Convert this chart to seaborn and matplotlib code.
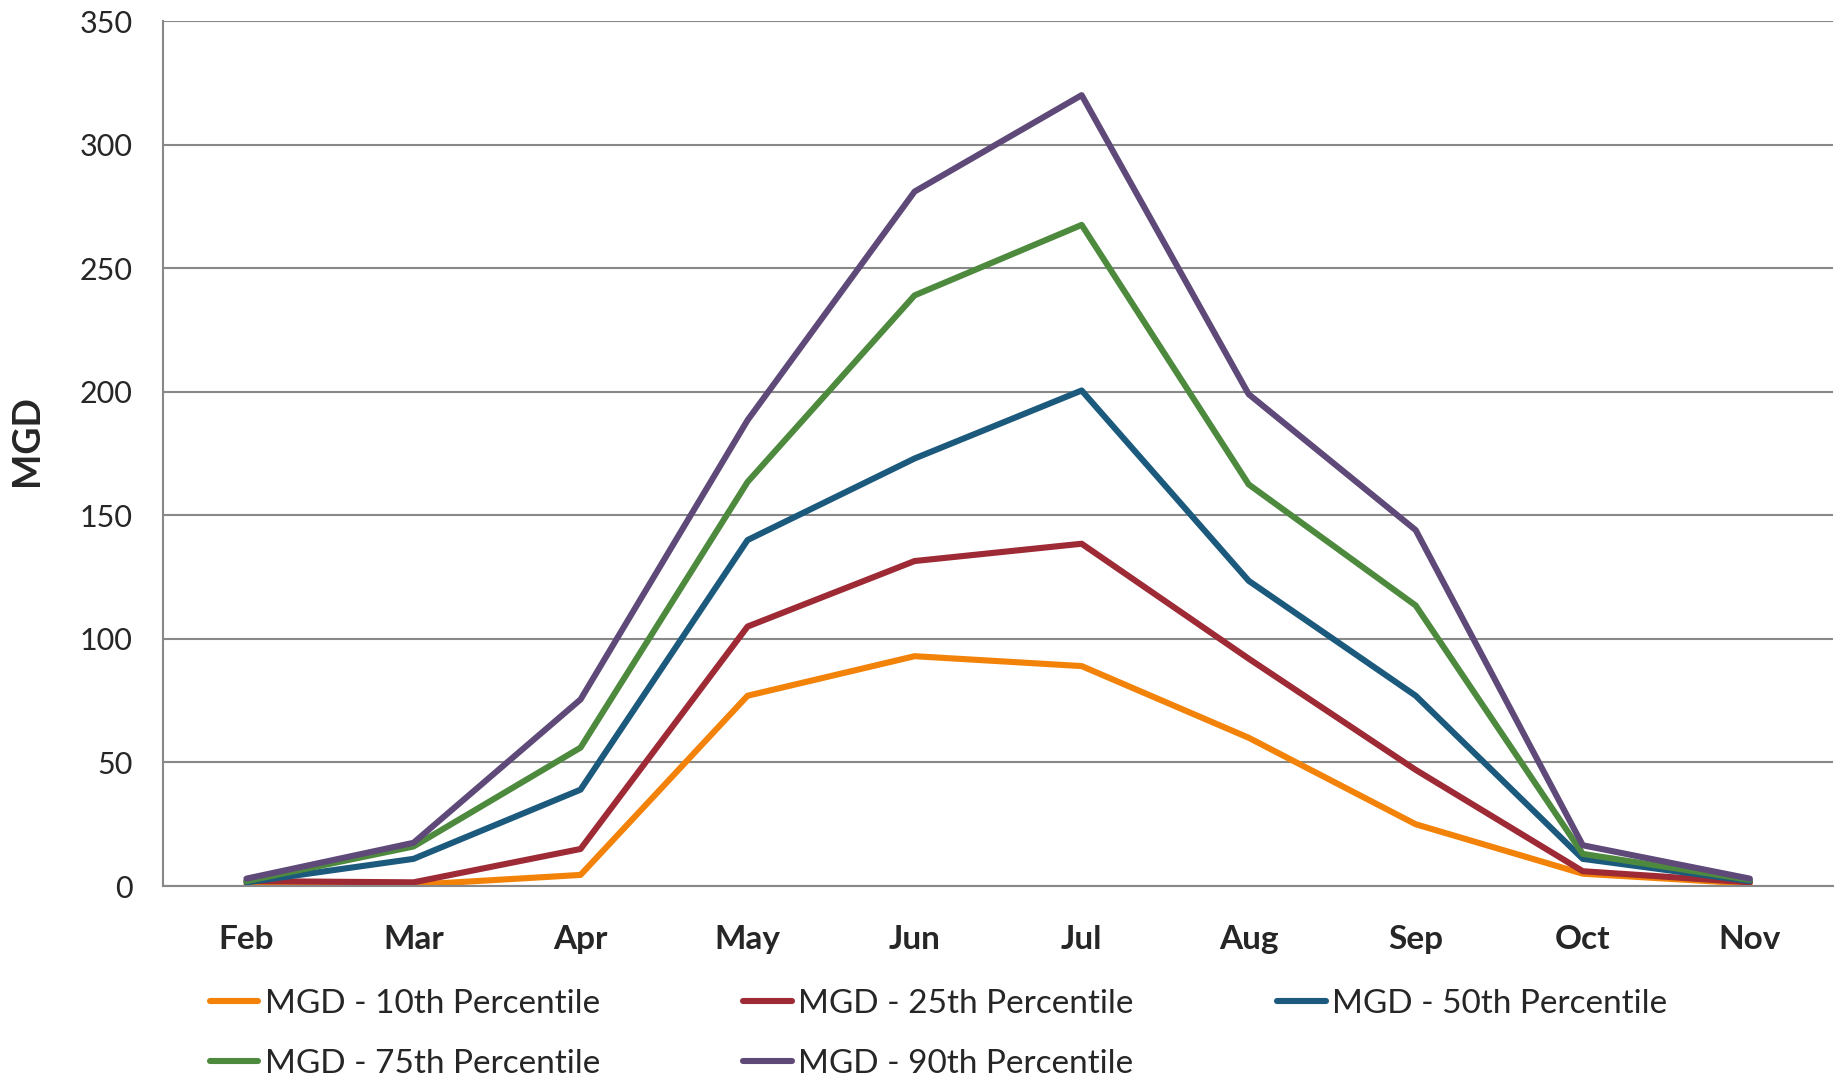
import matplotlib
matplotlib.use('Agg')
import matplotlib.pyplot as plt
from matplotlib.ticker import FixedLocator
import pandas as pd
import seaborn as sns
import numpy as np

months = ['Feb', 'Mar', 'Apr', 'May', 'Jun', 'Jul', 'Aug', 'Sep', 'Oct', 'Nov']
p10 = [0.5, 0.5, 4.5, 77, 93, 89, 60, 25, 5, 1]
p25 = [2, 1.5, 15, 105, 131.5, 138.5, 92, 47, 6, 1.5]
p50 = [1.5, 11, 39, 140, 173, 200.5, 123.5, 77, 11, 2]
p75 = [2, 16, 56, 163.5, 239, 267.5, 162.5, 113.5, 13, 2.5]
p90 = [3, 17.5, 75.5, 188.5, 281, 320, 199, 144, 16.5, 3]
series_names = ['MGD - 10th Percentile', 'MGD - 25th Percentile', 'MGD - 50th Percentile',
                'MGD - 75th Percentile', 'MGD - 90th Percentile']
colors = ['#F28208', '#9E2A35', '#1C5A7D', '#4E8A3E', '#5E4979']

rows = []
for name, vals in zip(series_names, [p10, p25, p50, p75, p90]):
    for i, v in enumerate(vals):
        rows.append({'x': i, 'MGD': v, 'series': name})
df = pd.DataFrame(rows)

sns.set_style('white')
plt.rcParams['font.family'] = ['Lato', 'DejaVu Sans']

fig = plt.figure(figsize=(18.37, 10.77), dpi=100)
ax = fig.add_axes([0.0887, 0.1773, 0.9093, 0.8032])

sns.lineplot(data=df, x='x', y='MGD', hue='series', palette=colors,
             hue_order=series_names, linewidth=4.4, ax=ax, legend=False)

gray = '#888888'
ax.set_xlim(-0.5, 9.5)
ax.set_ylim(0, 350)
ax.set_yticks(np.arange(0, 351, 50))
ax.yaxis.grid(True, color=gray, linewidth=1.5)
ax.set_axisbelow(True)
for s in ['top', 'right']:
    ax.spines[s].set_visible(False)
for s in ['left', 'bottom']:
    ax.spines[s].set_color(gray)
    ax.spines[s].set_linewidth(1.5)

ax.set_xticks(range(len(months)))
ax.set_xticklabels(months, fontsize=24, fontweight='bold')
ax.xaxis.set_minor_locator(FixedLocator(np.arange(-0.5, 10, 1)))
ax.tick_params(axis='x', which='major', length=0, pad=28)
ax.tick_params(axis='x', which='minor', length=11, width=1.5, color=gray, direction='out')
ax.tick_params(axis='y', length=10, width=1.5, color=gray, direction='out', labelsize=22, pad=12)
ax.set_xlabel('')
ax.set_ylabel('MGD', fontsize=27, fontweight='bold')
ax.yaxis.set_label_coords(-0.071, 0.515)

handles = [plt.Line2D([], [], color=c, linewidth=4.4, solid_capstyle='round') for c in colors]
order = [0, 3, 1, 4, 2]
fig.legend([handles[i] for i in order], [series_names[i] for i in order],
           ncol=3, loc='upper left', bbox_to_anchor=(0.107, 0.094), frameon=False,
           fontsize=24, handlelength=1.45, handletextpad=0.2, columnspacing=4.3,
           labelspacing=0.9, borderaxespad=0)

fig.savefig('out.png', dpi=100)
